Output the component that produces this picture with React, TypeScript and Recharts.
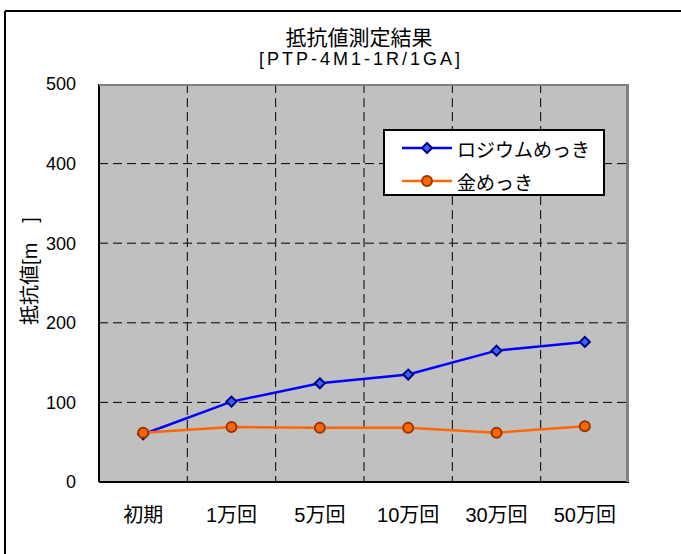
import React from 'react';
import { LineChart, Line, XAxis, YAxis, CartesianGrid } from 'recharts';

// 試験回数ごとの接触抵抗 [mΩ]
const categories = ['初期', '1万回', '5万回', '10万回', '30万回', '50万回'];
const rhodiumValues = [60, 101, 124, 135, 165, 176];
const goldValues = [62, 69, 68, 68, 62, 70];
const yTicks = [0, 100, 200, 300, 400, 500];
const gridValues = [100, 200, 300, 400];

const titleMain = '抵抗値測定結果';
const titleSub = '[PTP-4M1-1R/1GA]';
const yLabel = '抵抗値[m\u3000]';

const FONT = "'Liberation Sans', Arial, 'Noto Sans CJK JP', sans-serif";
const W = 681;
const H = 554;
const MARGIN = { top: 84, right: 52, bottom: 32, left: 0 };
const Y_WIDTH = 99;
const X_HEIGHT = 40;
const Y_MAX = 500;

const data = categories.map((cat, i) => ({
  cat,
  rhodium: rhodiumValues[i],
  gold: goldValues[i],
}));

const Diamond = (props: any) => {
  const { cx, cy } = props;
  if (cx == null || cy == null) return null;
  const r = 5;
  return (
    <polygon
      points={`${cx},${cy - r} ${cx + r},${cy} ${cx},${cy + r} ${cx - r},${cy}`}
      fill="#3366ff"
      stroke="#000080"
      strokeWidth={2}
    />
  );
};

const Circle = (props: any) => {
  const { cx, cy } = props;
  if (cx == null || cy == null) return null;
  return <circle cx={cx} cy={cy} r={5} fill="#ff6600" stroke="#993300" strokeWidth={2} />;
};

const series = [
  { key: 'rhodium', name: 'ロジウムめっき', color: '#0000ff', dot: Diamond },
  { key: 'gold', name: '金めっき', color: '#ff6600', dot: Circle },
];

const plotLeft = MARGIN.left + Y_WIDTH;
const plotTop = MARGIN.top;
const plotRight = W - MARGIN.right;
const plotBottom = H - MARGIN.bottom - X_HEIGHT;

export default function App() {
  return (
    <div style={{ position: 'absolute', left: 0, top: 0, width: W, height: H, fontFamily: FONT, background: '#fff' }}>
      <LineChart width={W} height={H} data={data} margin={MARGIN}>
        <CartesianGrid
          fill="#c0c0c0"
          stroke="#000"
          strokeDasharray="9 5"
          horizontalCoordinatesGenerator={({ offset }: any) =>
            gridValues.map((v) => offset.top + offset.height * (1 - v / Y_MAX))
          }
          verticalCoordinatesGenerator={({ offset }: any) =>
            categories.slice(1).map((_, i) => offset.left + (offset.width * (i + 1)) / categories.length)
          }
        />
        <XAxis
          dataKey="cat"
          scale="band"
          interval={0}
          height={X_HEIGHT}
          tickLine={false}
          tickSize={6}
          tickMargin={20}
          axisLine={{ stroke: '#000', strokeWidth: 2 }}
          tick={{ fontSize: 20, fill: '#000' }}
        />
        <YAxis
          type="number"
          domain={[0, Y_MAX]}
          ticks={yTicks}
          width={Y_WIDTH}
          tickLine={false}
          tickSize={6}
          tickMargin={17}
          axisLine={{ stroke: '#000', strokeWidth: 2 }}
          tick={{ fontSize: 18, fill: '#000' }}
        />
        {series.map((s) => (
          <Line
            key={s.key}
            dataKey={s.key}
            name={s.name}
            type="linear"
            stroke={s.color}
            strokeWidth={2.5}
            dot={<s.dot />}
            activeDot={false}
            isAnimationActive={false}
          />
        ))}
      </LineChart>

      {/* plot frame, titles and outer border */}
      <svg
        width={W}
        height={H}
        style={{ position: 'absolute', left: 0, top: 0, pointerEvents: 'none' }}
      >
        <line x1={plotLeft} y1={plotTop + 1} x2={plotRight} y2={plotTop + 1} stroke="#808080" strokeWidth={2} />
        <line x1={plotRight - 1.5} y1={plotTop} x2={plotRight - 1.5} y2={plotBottom} stroke="#808080" strokeWidth={3} />
        <line x1={5} y1={11} x2={W} y2={11} stroke="#000" strokeWidth={2} />
        <line x1={5} y1={11} x2={5} y2={H} stroke="#000" strokeWidth={2} />
        <text x={359} y={45} textAnchor="middle" fontSize={21} fill="#000">
          {titleMain}
        </text>
        <text x={361} y={65} textAnchor="middle" fontSize={18} letterSpacing={3} fill="#000">
          {titleSub}
        </text>
        <text
          x={0}
          y={0}
          transform="translate(37 271) rotate(-90)"
          textAnchor="middle"
          fontSize={20}
          fill="#000"
        >
          {yLabel}
        </text>
      </svg>

      {/* legend */}
      <div
        style={{
          position: 'absolute',
          left: 383,
          top: 129,
          width: 222,
          height: 67,
          boxSizing: 'border-box',
          border: '2px solid #000',
          background: '#fff',
        }}
      >
        {series.map((s, i) => (
          <div
            key={s.key}
            style={{ position: 'absolute', left: 16, top: 2 + i * 33, height: 30, display: 'flex', alignItems: 'center' }}
          >
            <svg width={52} height={14} style={{ display: 'block' }}>
              <line x1={1} y1={7} x2={51} y2={7} stroke={s.color} strokeWidth={2.5} />
              {i === 0 ? <Diamond cx={26} cy={7} /> : <Circle cx={26} cy={7} />}
            </svg>
            <span style={{ fontSize: 19, marginLeft: 4, color: '#000', whiteSpace: 'nowrap' }}>{s.name}</span>
          </div>
        ))}
      </div>
    </div>
  );
}
